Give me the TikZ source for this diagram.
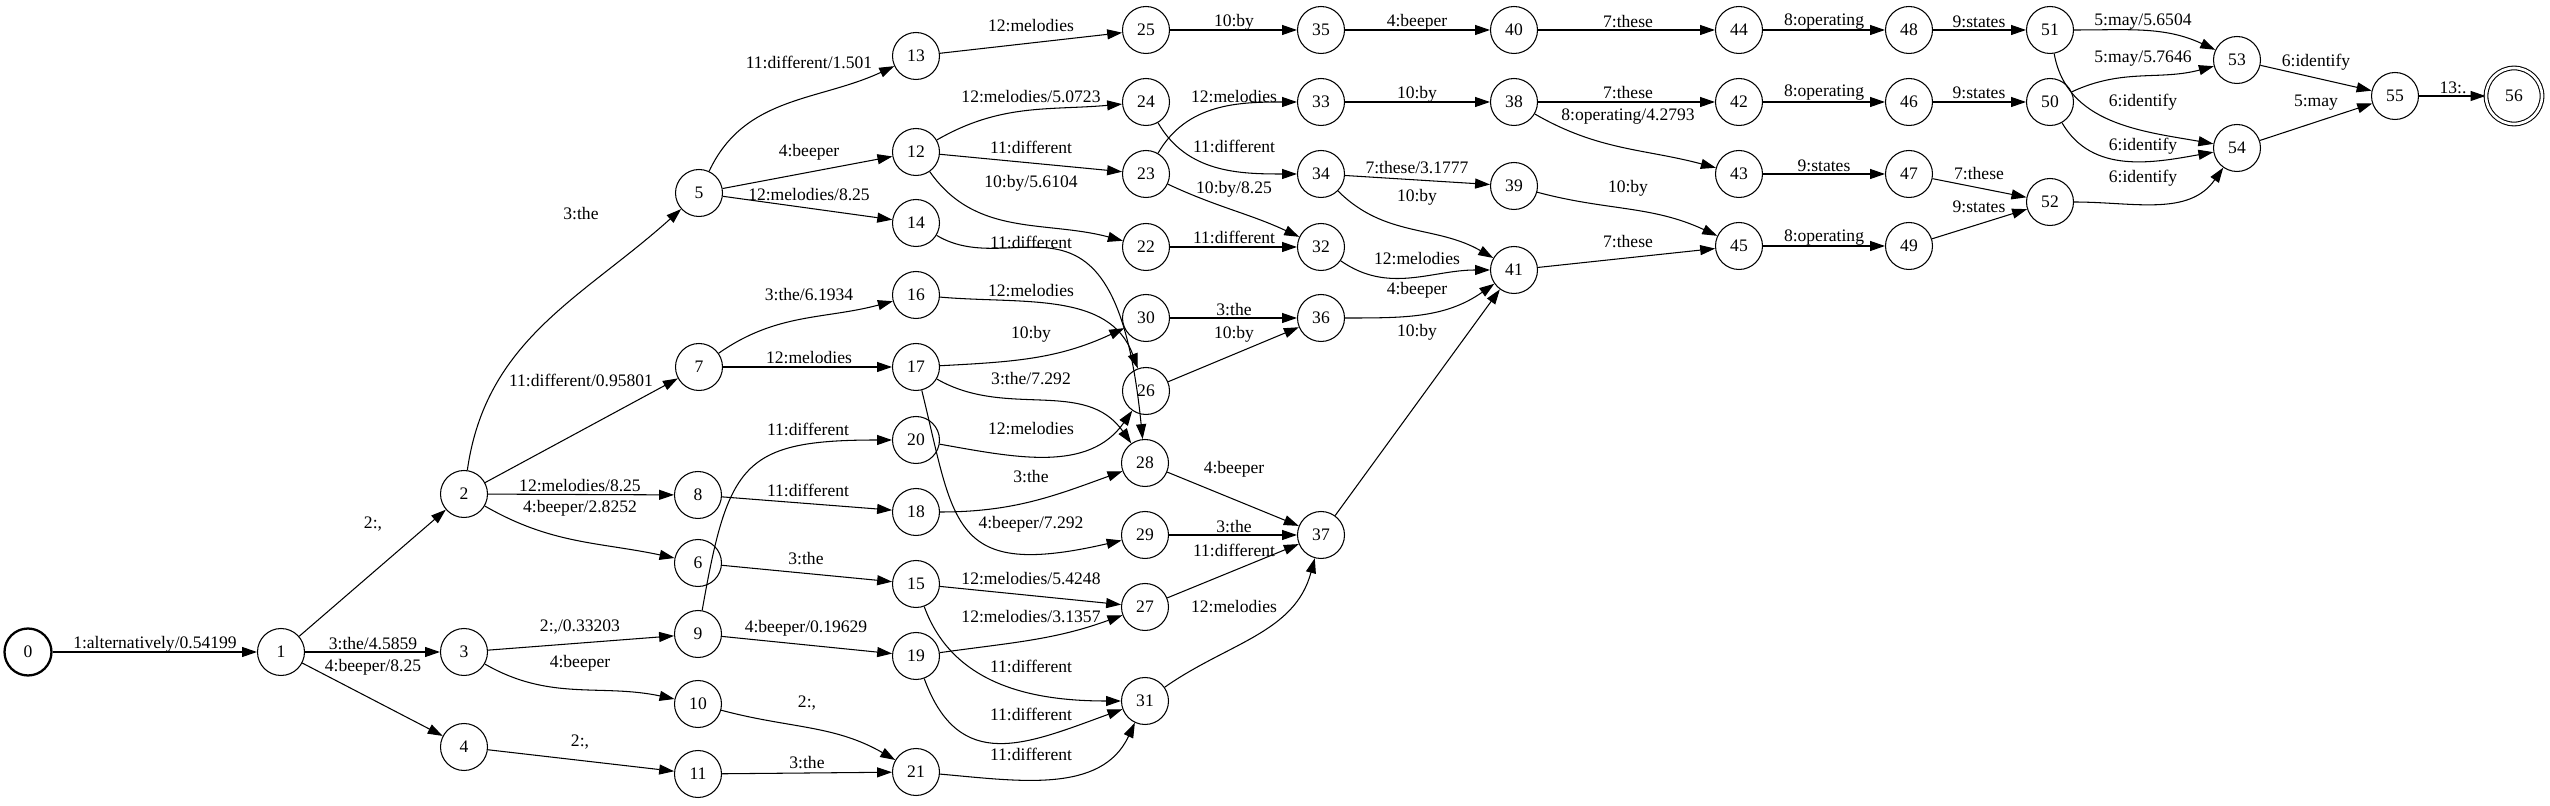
\documentclass[tikz,border=0pt]{standalone}
\usepackage{fontspec}
\setmainfont{Liberation Serif}
\usetikzlibrary{arrows.meta}
\newcommand{\stnode}[3]{\node[st] (s#1) at (#2,#3) {#1};}
\newcommand{\elabl}[4]{\node[lbl] (#1) at (#2,#3) {#4};}

\begin{document}
\begin{tikzpicture}[x=0.02cm,y=0.02cm,
    st/.style={circle,draw,line width=0.6pt,minimum size=0.94cm,inner sep=0pt},
    lbl/.style={inner sep=1pt},
    arr/.style={line width=0.6pt,-{Triangle[length=8.5pt,width=5.7pt]}}]
        \useasboundingbox (0,0) rectangle (2550,805);
        %nodes
        \node[st,line width=1.3pt] (s0) at (28,153) {0};
        \stnode{1}{281}{153}
        \stnode{2}{464}{311}
        \stnode{3}{464}{153}
        \stnode{4}{464}{58}
        \stnode{5}{699}{612}
        \stnode{7}{699}{438}
        \stnode{8}{698}{310}
        \stnode{6}{698}{242}
        \stnode{9}{698}{171}
        \stnode{10}{698}{101}
        \stnode{11}{698}{31}
        \stnode{13}{916}{749}
        \stnode{12}{916}{653}
        \stnode{14}{916}{582}
        \stnode{16}{916}{510}
        \stnode{17}{916}{438}
        \stnode{20}{916}{365}
        \stnode{18}{916}{293}
        \stnode{15}{916}{221}
        \stnode{19}{916}{149}
        \stnode{21}{916}{33}
        \stnode{25}{1146}{775}
        \stnode{24}{1146}{703}
        \stnode{23}{1146}{631}
        \stnode{22}{1146}{558}
        \stnode{30}{1146}{487}
        \stnode{26}{1146}{414}
        \stnode{28}{1145}{342}
        \stnode{29}{1145}{270}
        \stnode{27}{1145}{198}
        \stnode{31}{1145}{104}
        \stnode{35}{1321}{775}
        \stnode{33}{1321}{703}
        \stnode{34}{1321}{631}
        \stnode{32}{1321}{558}
        \stnode{36}{1321}{487}
        \stnode{37}{1321}{270}
        \stnode{40}{1514}{775}
        \stnode{38}{1514}{703}
        \stnode{39}{1514}{619}
        \stnode{41}{1514}{535}
        \stnode{44}{1739}{775}
        \stnode{42}{1739}{703}
        \stnode{43}{1739}{631}
        \stnode{45}{1739}{559}
        \stnode{48}{1909}{775}
        \stnode{46}{1909}{703}
        \stnode{47}{1909}{631}
        \stnode{49}{1909}{559}
        \stnode{51}{2050}{775}
        \stnode{50}{2050}{703}
        \stnode{52}{2050}{603}
        \stnode{53}{2237}{745}
        \stnode{54}{2237}{657}
        \stnode{55}{2395}{709}
        \node[st,minimum size=1.12cm,double,double distance=1.5pt] (s56) at (2514,709) {56};
        %edges
        \draw[arr] (s0) -- (s1);
        \draw[arr] (s1) -- (s2);
        \draw[arr] (s1) -- (s3);
        \draw[arr] (s1) -- (s4);
        \draw[arr] (s2) to[out=82,in=222] (s5);
        \draw[arr] (s2) -- (s7);
        \draw[arr] (s2) -- (s8);
        \draw[arr] (s2) to[out=-30,in=168] (s6);
        \draw[arr] (s3) -- (s9);
        \draw[arr] (s3) to[out=-30,in=168] (s10);
        \draw[arr] (s4) -- (s11);
        \draw[arr] (s5) to[out=65,in=205] (s13);
        \draw[arr] (s5) -- (s12);
        \draw[arr] (s5) -- (s14);
        \draw[arr] (s7) to[out=35,in=195] (s16);
        \draw[arr] (s7) -- (s17);
        \draw[arr] (s8) -- (s18);
        \draw[arr] (s6) -- (s15);
        \draw[arr] (s9) to[out=80,in=180,looseness=1.5] (s20);
        \draw[arr] (s9) -- (s19);
        \draw[arr] (s10) to[out=-15,in=150] (s21);
        \draw[arr] (s11) -- (s21);
        \draw[arr] (s13) -- (s25);
        \draw[arr] (s12) to[out=30,in=185] (s24);
        \draw[arr] (s12) -- (s23);
        \draw[arr] (s12) to[out=-55,in=165] (s22);
        \draw[arr] (s14) .. controls +(100,-60) and +(-30,300) .. (s28);
        \draw[arr] (s16) to[out=-5,in=110] (s26);
        \draw[arr] (s17) to[out=3,in=205] (s30);
        \draw[arr] (s17) to[out=-30,in=125] (s28);
        \draw[arr] (s17) .. controls (955,280) and (950,225) .. (s29);
        \draw[arr] (s20) to[out=-10,in=235] (s26);
        \draw[arr] (s18) to[out=0,in=200] (s28);
        \draw[arr] (s15) -- (s27);
        \draw[arr] (s15) to[out=-70,in=180] (s31);
        \draw[arr] (s19) to[out=8,in=200] (s27);
        \draw[arr] (s19) to[out=-70,in=200,looseness=1.3] (s31);
        \draw[arr] (s21) to[out=-5,in=245] (s31);
        \draw[arr] (s25) -- (s35);
        \draw[arr] (s24) to[out=-60,in=180] (s34);
        \draw[arr] (s23) to[out=60,in=180] (s33);
        \draw[arr] (s23) to[out=-25,in=155] (s32);
        \draw[arr] (s22) -- (s32);
        \draw[arr] (s30) -- (s36);
        \draw[arr] (s26) -- (s36);
        \draw[arr] (s28) -- (s37);
        \draw[arr] (s29) -- (s37);
        \draw[arr] (s27) -- (s37);
        \draw[arr] (s31) to[out=35,in=255] (s37);
        \draw[arr] (s35) -- (s40);
        \draw[arr] (s33) -- (s38);
        \draw[arr] (s34) -- (s39);
        \draw[arr] (s34) to[out=-45,in=150] (s41);
        \draw[arr] (s32) to[out=-35,in=180] (s41);
        \draw[arr] (s36) to[out=0,in=215] (s41);
        \draw[arr] (s37) -- (s41);
        \draw[arr] (s40) -- (s44);
        \draw[arr] (s38) -- (s42);
        \draw[arr] (s38) to[out=-30,in=165] (s43);
        \draw[arr] (s39) to[out=-15,in=155] (s45);
        \draw[arr] (s41) -- (s45);
        \draw[arr] (s44) -- (s48);
        \draw[arr] (s42) -- (s46);
        \draw[arr] (s43) -- (s47);
        \draw[arr] (s45) -- (s49);
        \draw[arr] (s48) -- (s51);
        \draw[arr] (s46) -- (s50);
        \draw[arr] (s47) -- (s52);
        \draw[arr] (s49) -- (s52);
        \draw[arr] (s51) to[out=0,in=155] (s53);
        \draw[arr] (s50) to[out=25,in=195] (s53);
        \draw[arr] (s51) to[out=-80,in=170] (s54);
        \draw[arr] (s50) to[out=-60,in=190] (s54);
        \draw[arr] (s52) to[out=0,in=235] (s54);
        \draw[arr] (s53) -- (s55);
        \draw[arr] (s54) -- (s55);
        \draw[arr] (s55) -- (s56);
        %labels
        \elabl{e0-1}{155}{161}{1:alternatively/0.54199}
        \elabl{e1-2}{373}{281}{2:,}
        \elabl{e1-3}{373}{161}{3:the/4.5859}
        \elabl{e1-4}{373}{138}{4:beeper/8.25}
        \elabl{e2-5}{581}{591}{3:the}
        \elabl{e2-7}{581}{425}{11:different/0.95801}
        \elabl{e2-8}{580}{319}{12:melodies/8.25}
        \elabl{e2-6}{580}{297}{4:beeper/2.8252}
        \elabl{e3-9}{580}{178}{2:,/0.33203}
        \elabl{e3-10}{580}{142}{4:beeper}
        \elabl{e4-11}{580}{63}{2:,}
        \elabl{e5-13}{809}{743}{11:different/1.501}
        \elabl{e5-12}{809}{653}{4:beeper}
        \elabl{e5-14}{809}{610}{12:melodies/8.25}
        \elabl{e7-16}{809}{510}{3:the/6.1934}
        \elabl{e7-17}{809}{447}{12:melodies}
        \elabl{e9-20}{808}{376}{11:different}
        \elabl{e8-18}{808}{315}{11:different}
        \elabl{e6-15}{806}{246}{3:the}
        \elabl{e9-19}{806}{177}{4:beeper/0.19629}
        \elabl{e10-21}{807}{102}{2:,}
        \elabl{e11-21}{807}{42}{3:the}
        \elabl{e13-25}{1031}{779}{12:melodies}
        \elabl{e12-24}{1031}{708}{12:melodies/5.0723}
        \elabl{e12-23}{1031}{658}{11:different}
        \elabl{e12-22}{1031}{622}{10:by/5.6104}
        \elabl{e14-28}{1031}{563}{11:different}
        \elabl{e16-26}{1031}{514}{12:melodies}
        \elabl{e17-30}{1031}{471}{10:by}
        \elabl{e17-28}{1031}{426}{3:the/7.292}
        \elabl{e20-26}{1031}{376}{12:melodies}
        \elabl{e18-28}{1031}{328}{3:the}
        \elabl{e17-29}{1031}{281}{4:beeper/7.292}
        \elabl{e15-27}{1031}{226}{12:melodies/5.4248}
        \elabl{e19-27}{1031}{188}{12:melodies/3.1357}
        \elabl{e15-31}{1031}{139}{11:different}
        \elabl{e19-31}{1031}{91}{11:different}
        \elabl{e21-31}{1031}{51}{11:different}
        \elabl{e25-35}{1234}{783}{10:by}
        \elabl{e23-33}{1234}{708}{12:melodies}
        \elabl{e24-34}{1234}{659}{11:different}
        \elabl{e23-32}{1234}{616}{10:by/8.25}
        \elabl{e22-32}{1234}{568}{11:different}
        \elabl{e30-36}{1234}{495}{3:the}
        \elabl{e26-36}{1234}{471}{10:by}
        \elabl{e28-37}{1234}{336}{4:beeper}
        \elabl{e29-37}{1234}{278}{3:the}
        \elabl{e27-37}{1234}{255}{11:different}
        \elabl{e31-37}{1234}{198}{12:melodies}
        \elabl{e35-40}{1417}{783}{4:beeper}
        \elabl{e33-38}{1417}{711}{10:by}
        \elabl{e34-39}{1417}{637}{7:these/3.1777}
        \elabl{e34-41}{1417}{608}{10:by}
        \elabl{e32-41}{1417}{546}{12:melodies}
        \elabl{e36-41}{1417}{515}{4:beeper}
        \elabl{e37-41}{1417}{473}{10:by}
        \elabl{e40-44}{1628}{783}{7:these}
        \elabl{e38-42}{1628}{712}{7:these}
        \elabl{e38-43}{1628}{688}{8:operating/4.2793}
        \elabl{e39-45}{1628}{617}{10:by}
        \elabl{e41-45}{1628}{563}{7:these}
        \elabl{e44-48}{1824}{783}{8:operating}
        \elabl{e42-46}{1824}{712}{8:operating}
        \elabl{e43-47}{1824}{639}{9:states}
        \elabl{e45-49}{1824}{567}{8:operating}
        \elabl{e48-51}{1979}{783}{9:states}
        \elabl{e46-50}{1979}{712}{9:states}
        \elabl{e47-52}{1979}{631}{7:these}
        \elabl{e49-52}{1979}{598}{9:states}
        \elabl{e51-53}{2143}{783}{5:may/5.6504}
        \elabl{e50-53}{2143}{746}{5:may/5.7646}
        \elabl{e51-54}{2143}{703}{6:identify}
        \elabl{e50-54}{2143}{659}{6:identify}
        \elabl{e52-54}{2143}{627}{6:identify}
        \elabl{e53-55}{2316}{743}{6:identify}
        \elabl{e54-55}{2316}{702}{5:may}
        \elabl{e55-56}{2453}{717}{13:.}
\end{tikzpicture}
\end{document}
